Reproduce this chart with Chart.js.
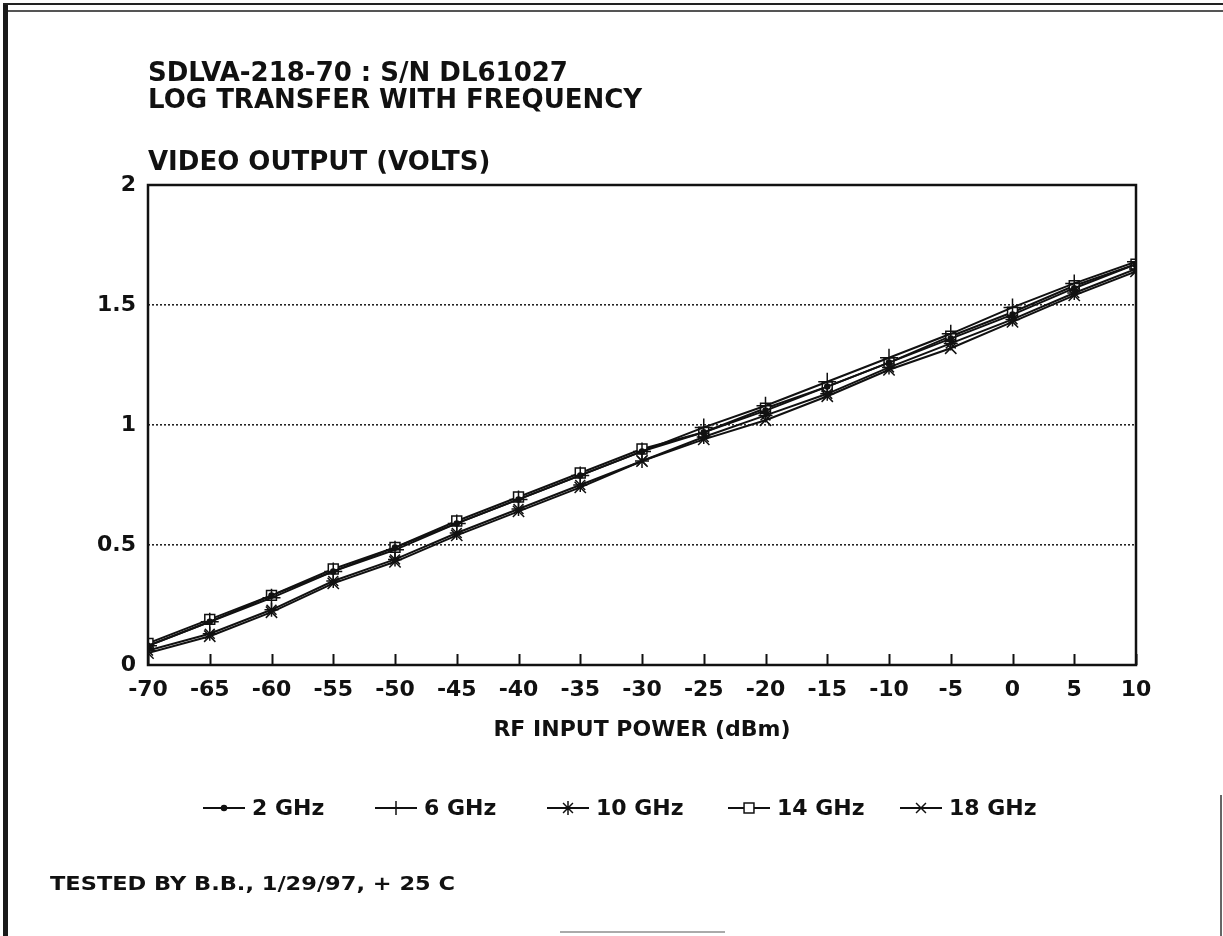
<!DOCTYPE html>
<html>
<head>
<meta charset="utf-8">
<script src="https://cdn.jsdelivr.net/npm/chart.js@4.4.1/dist/chart.umd.min.js"></script>
<style>
  html, body { margin: 0; padding: 0; background: #fff; }
  #wrap { position: relative; width: 1223px; height: 936px; overflow: hidden; background: #fff; }
  #frameL { position: absolute; left: 3px; top: 3px; width: 5px; height: 940px; background: #1a1a1a; }
  #frameT1 { position: absolute; left: 3px; top: 3px; width: 1230px; height: 2px; background: #222; }
  #frameT2 { position: absolute; left: 8px; top: 10px; width: 1230px; height: 2px; background: #555; }
  #frameR { position: absolute; left: 1220px; top: 795px; width: 2px; height: 141px; background: #666; }
  #frameB { position: absolute; left: 560px; top: 931px; width: 165px; height: 2px; background: #aaa; }
  canvas { position: absolute; left: 0; top: 0; }
</style>
</head>
<body>
<div id="wrap">
  <div id="frameL"></div>
  <div id="frameT1"></div>
  <div id="frameT2"></div>
  <div id="frameR"></div>
  <div id="frameB"></div>
  <canvas id="c" width="1223" height="936"></canvas>
</div>
<script>
// ---- data ----
const rfInput = [-70, -65, -60, -55, -50, -45, -40, -35, -30, -25, -20, -15, -10, -5, 0, 5, 10];
const ghz2  = [0.08, 0.18, 0.29, 0.39, 0.49, 0.59, 0.69, 0.79, 0.89, 0.97, 1.06, 1.16, 1.26, 1.36, 1.46, 1.57, 1.67];
const ghz6  = [0.08, 0.18, 0.28, 0.39, 0.48, 0.59, 0.69, 0.79, 0.89, 0.99, 1.08, 1.18, 1.28, 1.38, 1.49, 1.59, 1.68];
const ghz10 = [0.06, 0.13, 0.23, 0.35, 0.44, 0.55, 0.65, 0.75, 0.85, 0.95, 1.04, 1.13, 1.24, 1.34, 1.44, 1.55, 1.65];
const ghz14 = [0.09, 0.19, 0.29, 0.40, 0.49, 0.60, 0.70, 0.80, 0.90, 0.97, 1.07, 1.16, 1.26, 1.37, 1.47, 1.58, 1.67];
const ghz18 = [0.05, 0.12, 0.22, 0.34, 0.43, 0.54, 0.64, 0.74, 0.85, 0.94, 1.02, 1.12, 1.23, 1.32, 1.43, 1.54, 1.64];
const seriesNames = ['2 GHz', '6 GHz', '10 GHz', '14 GHz', '18 GHz'];
const xTickValues = [-70, -65, -60, -55, -50, -45, -40, -35, -30, -25, -20, -15, -10, -5, 0, 5, 10];
const yTickLabels = ['0', '0.5', '1', '1.5', '2'];
const titleLines = ['SDLVA-218-70 : S/N DL61027', 'LOG TRANSFER WITH FREQUENCY'];
const yAxisTitle = 'VIDEO OUTPUT (VOLTS)';
const xAxisTitle = 'RF INPUT POWER (dBm)';
const footer = 'TESTED BY B.B., 1/29/97, + 25 C';

const FONT = '"DejaVu Sans", "Liberation Sans", Arial, sans-serif';
const INK = '#111';

function pts(arr) { return rfInput.map((x, i) => ({ x: x, y: arr[i] })); }

const styles = [
  { pointStyle: 'circle',   radius: 2.5, bg: INK },
  { pointStyle: 'cross',    radius: 9,   bg: INK },
  { pointStyle: 'star',     radius: 7,   bg: INK },
  { pointStyle: 'rect',     radius: 7,   bg: '#fff' },
  { pointStyle: 'crossRot', radius: 8,   bg: INK }
];
const allData = [ghz2, ghz6, ghz10, ghz14, ghz18];

const datasets = allData.map((d, i) => ({
  label: seriesNames[i],
  data: pts(d),
  borderColor: INK,
  borderWidth: 2,
  backgroundColor: styles[i].bg,
  pointStyle: styles[i].pointStyle,
  pointRadius: styles[i].radius,
  pointBorderColor: INK,
  pointBorderWidth: 1.5,
  pointBackgroundColor: styles[i].bg,
  tension: 0,
  fill: false
}));

// layout constants (styling only)
const LEGEND_STARTS = [203, 375, 547, 728, 900];
const LEGEND_Y = 808;

function fitText(ctx, text, x, y, targetW) {
  const w = ctx.measureText(text).width;
  const sx = targetW ? targetW / w : 1;
  ctx.save();
  ctx.translate(x, y);
  ctx.scale(sx, 1);
  ctx.fillText(text, 0, 0);
  ctx.restore();
}

const decor = {
  id: 'decor',
  afterDraw(chart) {
    const ctx = chart.ctx;
    const a = chart.chartArea;
    const xs = chart.scales.x;
    ctx.save();
    // frame box
    ctx.strokeStyle = INK;
    ctx.lineWidth = 2.5;
    ctx.strokeRect(a.left, a.top, a.right - a.left, a.bottom - a.top);
    // inward x ticks
    ctx.lineWidth = 2;
    xTickValues.forEach(v => {
      const px = Math.round(xs.getPixelForValue(v)) + 0.5;
      ctx.beginPath();
      ctx.moveTo(px, a.bottom);
      ctx.lineTo(px, a.bottom - 11);
      ctx.stroke();
    });
    // titles
    ctx.fillStyle = INK;
    ctx.textBaseline = 'alphabetic';
    ctx.textAlign = 'left';
    ctx.font = 'bold 26px ' + FONT;
    ctx.fillText(titleLines[0], a.left, 81);
    ctx.fillText(titleLines[1], a.left, 108);
    ctx.fillText(yAxisTitle, a.left, 170);
    // x axis title
    ctx.textAlign = 'center';
    ctx.font = 'bold 22px ' + FONT;
    ctx.fillText(xAxisTitle, (a.left + a.right) / 2, 736);
    // footer
    ctx.textAlign = 'left';
    ctx.font = 'bold 20px ' + FONT;
    fitText(ctx, footer, 50, 890, 405);
    // legend
    ctx.font = 'bold 22px ' + FONT;
    const segLen = 42, gapText = 7;
    chart.data.datasets.forEach((ds, i) => {
      const x = LEGEND_STARTS[i];
      ctx.strokeStyle = INK;
      ctx.lineWidth = 2;
      ctx.beginPath();
      ctx.moveTo(x, LEGEND_Y);
      ctx.lineTo(x + segLen, LEGEND_Y);
      ctx.stroke();
      ctx.fillStyle = ds.pointBackgroundColor;
      ctx.strokeStyle = INK;
      ctx.lineWidth = ds.pointBorderWidth;
      Chart.helpers.drawPoint(ctx, {
        pointStyle: ds.pointStyle,
        radius: Math.min(ds.pointRadius, 7),
        borderWidth: ds.pointBorderWidth,
        rotation: 0
      }, x + segLen / 2, LEGEND_Y);
      ctx.fillStyle = INK;
      ctx.textAlign = 'left';
      ctx.textBaseline = 'middle';
      ctx.fillText(ds.label, x + segLen + gapText, LEGEND_Y + 1);
    });
    ctx.restore();
  }
};

new Chart(document.getElementById('c'), {
  type: 'line',
  data: { datasets: datasets },
  options: {
    responsive: false,
    animation: false,
    devicePixelRatio: 1,
    layout: { padding: { left: 0, top: 185, right: 87, bottom: 0 } },
    plugins: { legend: { display: false }, title: { display: false }, tooltip: { enabled: false } },
    scales: {
      x: {
        type: 'linear',
        min: -70, max: 10,
        afterFit(s) { s.height = 936 - 665; },
        afterBuildTicks(s) { s.ticks = xTickValues.map(v => ({ value: v })); },
        grid: { display: false, drawTicks: false },
        border: { display: false },
        ticks: { color: INK, font: { family: FONT, size: 22, weight: 'bold' }, padding: 12, maxRotation: 0, autoSkip: false }
      },
      y: {
        type: 'linear',
        min: 0, max: 2,
        afterFit(s) { s.width = 148; },
        afterBuildTicks(s) { s.ticks = yTickLabels.map(t => ({ value: parseFloat(t) })); },
        grid: { color: '#222', lineWidth: 1.6, drawTicks: false },
        border: { display: false, dash: [2, 2] },
        ticks: {
          color: INK, font: { family: FONT, size: 22, weight: 'bold' }, padding: 12,
          callback: (v) => yTickLabels.find(t => parseFloat(t) === v)
        }
      }
    }
  },
  plugins: [decor]
});
</script>
</body>
</html>
